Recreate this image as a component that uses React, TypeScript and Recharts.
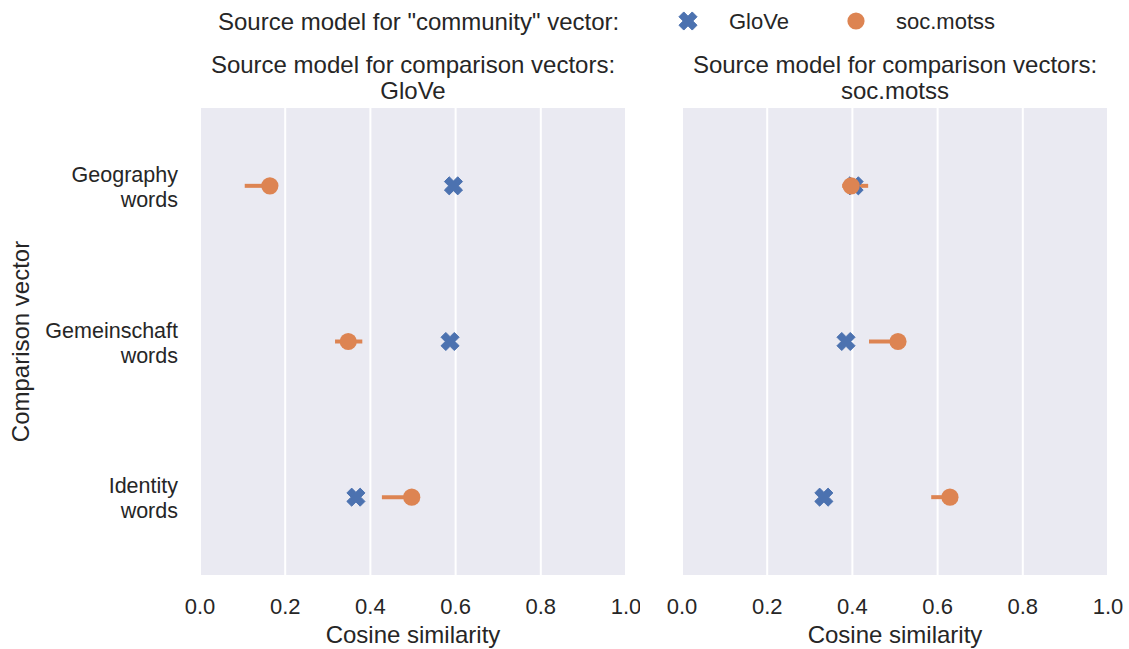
import React from 'react';
import { ScatterChart, Scatter, XAxis, YAxis, CartesianGrid, ErrorBar } from 'recharts';

// ---- data ----
const categories = ['Geography words', 'Gemeinschaft words', 'Identity words'];
const categoryLines = [['Geography', 'words'], ['Gemeinschaft', 'words'], ['Identity', 'words']];
const xTicks = [0, 0.2, 0.4, 0.6, 0.8, 1.0];

// Panel 1: comparison vectors from GloVe
const gloveOnGlove = [0.595, 0.587, 0.366];
const motssOnGlove = [0.164, 0.348, 0.497];
const motssOnGloveLow = [0.105, 0.317, 0.427];
const motssOnGloveHigh = [0.178, 0.381, 0.508];

// Panel 2: comparison vectors from soc.motss
const gloveOnMotss = [0.404, 0.385, 0.333];
const motssOnMotss = [0.397, 0.507, 0.629];
const motssOnMotssLow = [0.376, 0.439, 0.585];
const motssOnMotssHigh = [0.437, 0.52, 0.64];

const seriesNames = ['GloVe', 'soc.motss'];
const panelTitles = ['GloVe', 'soc.motss'];

// ---- styles ----
const BLUE = '#4c72b0';
const ORANGE = '#dd8452';
const TEXT = '#262626';
const BG = '#eaeaf2';
const FONT = "Arial, 'Liberation Sans', Helvetica, sans-serif";

const pointRows = (vals: number[]) =>
  vals.map((v, i) => ({ cat: categories[i], y: i + 0.5, x: v }));
const errRows = (vals: number[], lo: number[], hi: number[]) =>
  vals.map((v, i) => ({ cat: categories[i], y: i + 0.5, x: v, err: [v - lo[i], hi[i] - v] }));

const XShape = (props: any) => {
  const { cx, cy } = props;
  if (cx == null || cy == null) return null;
  const L = 9.4;
  const a = 3.4;
  const pts: [number, number][] = [
    [a, a], [L, a], [L, -a], [a, -a], [a, -L], [-a, -L], [-a, -a], [-L, -a], [-L, a], [-a, a], [-a, L], [a, L],
  ];
  const c = Math.SQRT1_2;
  const d = pts
    .map(([px, py], i) => {
      const rx = (px - py) * c;
      const ry = (px + py) * c;
      return `${i === 0 ? 'M' : 'L'}${cx + rx},${cy + ry}`;
    })
    .join(' ') + ' Z';
  return <path d={d} fill={BLUE} stroke={BLUE} strokeWidth={1} strokeLinejoin="round" />;
};

const DotShape = (props: any) => {
  const { cx, cy } = props;
  if (cx == null || cy == null) return null;
  return <circle cx={cx} cy={cy} r={8.6} fill={ORANGE} />;
};

const XTick = (props: any) => {
  const { x, y, payload } = props;
  return (
    <text x={x} y={y + 31} textAnchor="middle" dominantBaseline="central" fontSize={22} fill={TEXT} fontFamily={FONT}>
      {Number(payload.value).toFixed(1)}
    </text>
  );
};

const YTick = (props: any) => {
  const { x, y, payload } = props;
  const idx = Math.round(payload.value - 0.5);
  const lines = categoryLines[idx] || [];
  return (
    <g>
      {lines.map((l, i) => (
        <text key={i} x={x - 22} y={y - 4 + i * 25} textAnchor="end" fontSize={21.5} fill={TEXT} fontFamily={FONT}>
          {l}
        </text>
      ))}
    </g>
  );
};

const XLabel = (props: any) => {
  const vb = props.viewBox || {};
  return (
    <text x={vb.x + vb.width / 2} y={vb.y + 59} textAnchor="middle" dominantBaseline="central" fontSize={24} fill={TEXT} fontFamily={FONT}>
      Cosine similarity
    </text>
  );
};

const YLabel = (props: any) => {
  const vb = props.viewBox || {};
  const cy = vb.y + vb.height / 2;
  const cx = 20;
  return (
    <text x={cx} y={cy} textAnchor="middle" dominantBaseline="central" fontSize={24} fill={TEXT} fontFamily={FONT} transform={`rotate(-90, ${cx}, ${cy})`}>
      Comparison vector
    </text>
  );
};

function Panel(props: {
  left: number;
  width: number;
  margin: any;
  showY: boolean;
  glove: number[];
  motss: number[];
  lo: number[];
  hi: number[];
}) {
  const { left, width, margin, showY, glove, motss, lo, hi } = props;
  return (
    <div style={{ position: 'absolute', left, top: 0 }}>
      <ScatterChart width={width} height={649} margin={margin}>
        <CartesianGrid fill={BG} fillOpacity={1} stroke="#ffffff" strokeWidth={2} horizontal={false} verticalValues={xTicks} />
        <XAxis
          type="number"
          dataKey="x"
          domain={[0, 1]}
          ticks={xTicks}
          allowDataOverflow
          axisLine={false}
          tickLine={false}
          tickSize={0}
          tickMargin={0}
          height={74}
          tick={<XTick />}
          label={XLabel}
          interval={0}
        />
        <YAxis
          type="number"
          dataKey="y"
          domain={[0, 3]}
          ticks={[0.5, 1.5, 2.5]}
          reversed
          hide={!showY}
          width={190}
          axisLine={false}
          tickLine={false}
          tickSize={0}
          tickMargin={0}
          tick={<YTick />}
          label={showY ? YLabel : undefined}
          interval={0}
        />
        <Scatter name={seriesNames[0]} data={pointRows(glove)} shape={<XShape />} isAnimationActive={false} />
        <Scatter name={seriesNames[1]} data={errRows(motss, lo, hi)} shape={<DotShape />} isAnimationActive={false}>
          <ErrorBar dataKey="err" direction="x" width={0} strokeWidth={4} stroke={ORANGE} />
        </Scatter>
      </ScatterChart>
    </div>
  );
}

export default function App() {
  return (
    <div style={{ position: 'absolute', left: 0, top: 0, width: 1129, height: 649, background: '#fff', fontFamily: FONT }}>
      <Panel
        left={0}
        width={640}
        margin={{ top: 108, right: 14, bottom: 0, left: 10 }}
        showY
        glove={gloveOnGlove}
        motss={motssOnGlove}
        lo={motssOnGloveLow}
        hi={motssOnGloveHigh}
      />
      <Panel
        left={640}
        width={489}
        margin={{ top: 108, right: 21, bottom: 0, left: 42 }}
        showY={false}
        glove={gloveOnMotss}
        motss={motssOnMotss}
        lo={motssOnMotssLow}
        hi={motssOnMotssHigh}
      />
      <svg width={1129} height={110} style={{ position: 'absolute', left: 0, top: 0, pointerEvents: 'none' }}>
        <text x={218} y={21} fontSize={24} fill={TEXT} fontFamily={FONT} dominantBaseline="central">
          Source model for "community" vector:
        </text>
        <XShape cx={688} cy={21} />
        <text x={729} y={21} fontSize={22} fill={TEXT} fontFamily={FONT} dominantBaseline="central">
          {seriesNames[0]}
        </text>
        <circle cx={856} cy={21} r={8.6} fill={ORANGE} />
        <text x={896} y={21} fontSize={22} fill={TEXT} fontFamily={FONT} dominantBaseline="central">
          {seriesNames[1]}
        </text>
        {[413, 895].map((cx, i) => (
          <g key={i}>
            <text x={cx} y={64} textAnchor="middle" fontSize={24} fill={TEXT} fontFamily={FONT} dominantBaseline="central">
              Source model for comparison vectors:
            </text>
            <text x={cx} y={90} textAnchor="middle" fontSize={24} fill={TEXT} fontFamily={FONT} dominantBaseline="central">
              {panelTitles[i]}
            </text>
          </g>
        ))}
      </svg>
    </div>
  );
}
